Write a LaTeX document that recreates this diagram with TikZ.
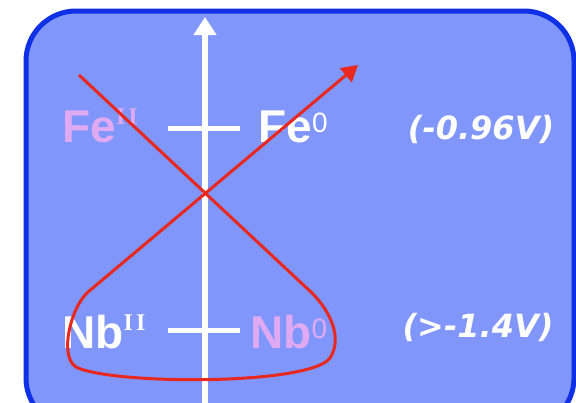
\documentclass[tikz,border=0pt]{standalone}
\usepackage{fontspec}
\setmainfont{Liberation Sans}
\newfontfamily\voltfont{DejaVu Sans}
\newfontfamily\romfont{Liberation Serif}
\usetikzlibrary{arrows.meta}
\definecolor{panel}{HTML}{8096FA}
\definecolor{rim}{HTML}{1030E6}
\definecolor{lilac}{HTML}{E0AAF2}
\definecolor{trace}{HTML}{E8281E}
\newcommand{\oxII}{\raisebox{9pt}{\fontsize{12}{12}\selectfont\romfont\bfseries I\kern1.5pt I}}
\newcommand{\oxzero}{\raisebox{5pt}{\fontsize{14}{14}\selectfont\mdseries 0}}
\tikzset{
  element/.style={font=\fontsize{23}{23}\selectfont\bfseries,inner sep=0pt,anchor=base west},
  volt/.style={font=\fontsize{16}{16}\selectfont\voltfont\bfseries\itshape,text=white,inner sep=0pt},
  level/.style={draw=white,line width=2.5pt},
  axis/.style={draw=white,line width=3pt,-{Triangle[length=9pt,width=11pt]}},
  redpath/.style={draw=trace,line width=1.5pt,line join=round,-{Triangle[length=8pt,width=9pt]}}}

\begin{document}
\begin{tikzpicture}[x=0.5pt,y=-0.5pt]
\useasboundingbox (0,0) rectangle (576,402);
\clip (0,0) rectangle (576,402);

\draw[rim,fill=panel,line width=2.5pt,rounded corners=25pt] (26,11) rectangle (574,428);

\coordinate (axbot) at (205,410);\coordinate (axtop) at (205,17);
\draw[axis] (axbot)--(axtop);

% levels
\coordinate (feL) at (168,128);\coordinate (feR) at (240,128);
\coordinate (nbL) at (168,330);\coordinate (nbR) at (240,330);
\draw[level] (feL)--(feR);\draw[level] (nbL)--(nbR);

\node[element,text=lilac] (feII) at (62,142) {Fe\oxII};
\node[element,text=white] (fe0) at (258,142) {Fe\oxzero};
\node[element,text=white] (nbII) at (62,348) {Nb\oxII};
\node[element,text=lilac] (nb0) at (250,348) {Nb\oxzero};

\node[volt] (vfe) at (481,129) {(-0.96V)};
\node[volt] (vnb) at (478,327) {(>-1.4V)};

\draw[redpath] (79,75) -- (312,293) .. controls (330,311) and (343,338) .. (330,358)
  .. controls (310,385) and (120,385) .. (78,368) .. controls (58,360) and (70,308) .. (88,292) -- (358,65);
\end{tikzpicture}
\end{document}
